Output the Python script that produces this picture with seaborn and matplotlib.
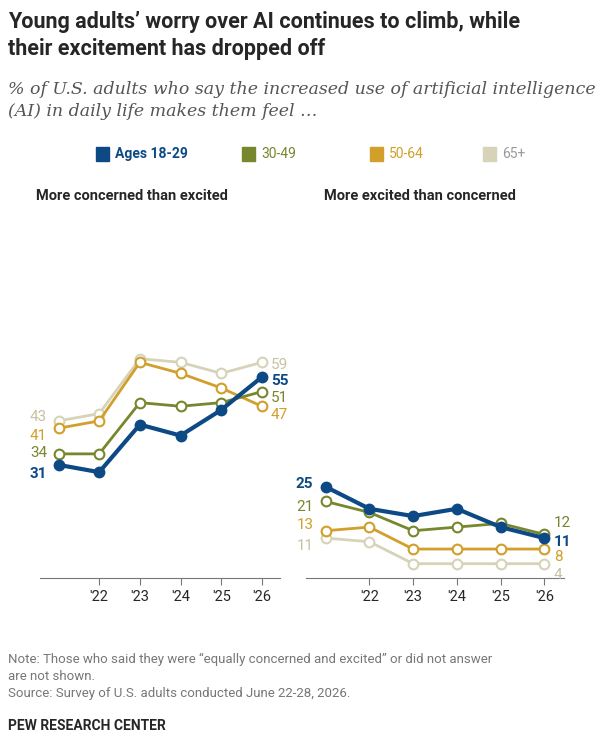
import pandas as pd
import matplotlib.pyplot as plt
import seaborn as sns

years = ["'21", "'22", "'23", "'24", "'25", "'26"]
groups = ["Ages 18-29", "30-49", "50-64", "65+"]
colors = ["#0d4a85", "#76872e", "#d19f2a", "#d6d3b9"]

concerned_18_29 = [31, 29, 42, 39, 46, 55]
concerned_30_49 = [34, 34, 48, 47, 48, 51]
concerned_50_64 = [41, 43, 59, 56, 52, 47]
concerned_65 = [43, 45, 60, 59, 56, 59]

excited_18_29 = [25, 19, 17, 19, 14, 11]
excited_30_49 = [21, 18, 13, 14, 15, 12]
excited_50_64 = [13, 14, 8, 8, 8, 8]
excited_65 = [11, 10, 4, 4, 4, 4]

concerned = [concerned_18_29, concerned_30_49, concerned_50_64, concerned_65]
excited = [excited_18_29, excited_30_49, excited_50_64, excited_65]

sns.set_style("white")
plt.rcParams['font.family'] = ['Roboto', 'DejaVu Sans']

fig = plt.figure(figsize=(6, 7.55), dpi=100)
fig.text(0.013, 0.985, "Young adults’ worry over AI continues to climb, while\ntheir excitement has dropped off",
         fontsize=15.5, fontweight='bold', va='top', linespacing=1.25)
fig.text(0.013, 0.893, "% of U.S. adults who say the increased use of artificial intelligence\n(AI) in daily life makes them feel …",
         fontsize=12.5, style='italic', family='DejaVu Serif', color='#555555', va='top', linespacing=1.4)

# legend row
lx = [0.16, 0.403, 0.617, 0.805]
for x, g, c in zip(lx, groups, colors):
    fig.patches.append(plt.Rectangle((x, 0.787), 0.022, 0.018, color=c, transform=fig.transFigure))
    fig.text(x + 0.032, 0.796, g, fontsize=10, color=c if g != "65+" else '#999999',
             fontweight='bold' if g == "Ages 18-29" else 'normal', va='center')

fig.text(0.06, 0.74, "More concerned than excited", fontsize=10.5, fontweight='bold', va='center')
fig.text(0.54, 0.74, "More excited than concerned", fontsize=10.5, fontweight='bold', va='center')

ax1 = fig.add_axes([0.067, 0.234, 0.40, 0.32])
ax2 = fig.add_axes([0.51, 0.234, 0.43, 0.32])

order = [3, 2, 1, 0]
for ax, data in [(ax1, concerned), (ax2, excited)]:
    for i in order:
        df = pd.DataFrame({"x": range(len(years)), "y": data[i]})
        main = i == 0
        sns.lineplot(data=df, x="x", y="y", ax=ax, color=colors[i], lw=3 if main else 2,
                     marker='o', markersize=7, markerfacecolor=colors[i] if main else 'white',
                     markeredgecolor=colors[i], markeredgewidth=1.5, zorder=5 + (3 - i))
    ax.set_ylim(0, 66)
    ax.set_xlim(-0.45, 5.45)
    ax.set_xticks(range(1, 6))
    ax.set_xticklabels(years[1:], fontsize=10.5)
    ax.tick_params(axis='x', length=5, color='#777777', direction='out', bottom=True)
    ax.set_yticks([])
    ax.set_xlabel("")
    ax.set_ylabel("")
    for s in ['top', 'left', 'right']:
        ax.spines[s].set_visible(False)
    ax.spines['bottom'].set_color('#777777')

txtcol = ['#0d4a85', '#76872e', '#d19f2a', '#c6c2a0']
start1 = [28.6, 34.3, 39, 44]
start2 = [25.9, 19.6, 14.7, 8.7]
end1 = [54, 49.3, 44.7, 58.3]
end2 = [9.8, 15, 5.7, 1]
for ax, data, s_pos, e_pos in [(ax1, concerned, start1, end1), (ax2, excited, start2, end2)]:
    for i in range(4):
        w = 'bold' if i == 0 else 'normal'
        ax.text(-0.28, s_pos[i], str(data[i][0]), ha='right', va='center', fontsize=11,
                color=txtcol[i], fontweight=w)
        ax.text(5.22, e_pos[i], str(data[i][-1]), ha='left', va='center', fontsize=11,
                color=txtcol[i], fontweight=w)

fig.text(0.013, 0.135, "Note: Those who said they were “equally concerned and excited” or did not answer\nare not shown.\nSource: Survey of U.S. adults conducted June 22-28, 2026.",
         fontsize=9.5, color='#777777', va='top', linespacing=1.4)
fig.text(0.013, 0.038, "PEW RESEARCH CENTER", fontsize=10, fontweight='bold', va='center')

fig.savefig("out.png", dpi=100)
